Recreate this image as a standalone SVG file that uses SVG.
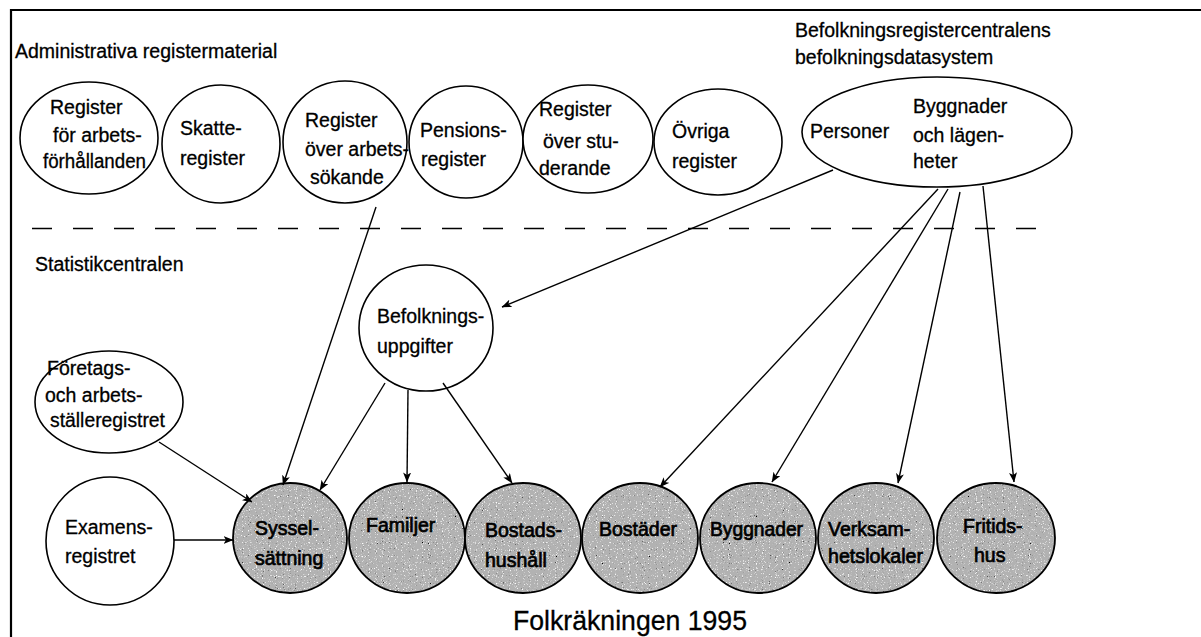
<svg xmlns="http://www.w3.org/2000/svg" width="1201" height="637" viewBox="0 0 1201 637">
<style>
text{font-family:"Liberation Sans",Arial,sans-serif;font-size:19.5px;fill:#000;stroke:#000;stroke-width:0.3}
.node{fill:#fff;stroke:#000;stroke-width:1.6}
.out{fill:none;stroke:#000;stroke-width:1.8}
.gray{fill:#b2b2b2;stroke:none}
.bt{stroke:#000;stroke-width:0.7}
.conn line{stroke:#000;stroke-width:1.4;marker-end:url(#ah)}
.frame{stroke:#000;stroke-width:2.2;fill:none}
</style>
<defs>
<marker id="ah" markerUnits="userSpaceOnUse" markerWidth="10" markerHeight="8" refX="9.5" refY="4" orient="auto">
<path d="M0,0 L10,4 L0,8 L2.5,4 z" fill="#000"/>
</marker>
<filter id="stip" x="0" y="0" width="100%" height="100%">
<feTurbulence type="fractalNoise" baseFrequency="0.85" numOctaves="1" seed="7" result="n"/>
<feColorMatrix in="n" type="matrix" values="0 0 0 0 0 0 0 0 0 0 0 0 0 0 0 6 0 0 0 -3.9" result="d"/>
<feColorMatrix in="n" type="matrix" values="0 0 0 0 1 0 0 0 0 1 0 0 0 0 1 0 -6 0 0 2.4" result="w"/>
<feComposite in="d" in2="SourceAlpha" operator="in" result="dc"/>
<feComposite in="w" in2="SourceAlpha" operator="in" result="wc"/>
<feMerge><feMergeNode in="SourceGraphic"/><feMergeNode in="wc"/><feMergeNode in="dc"/></feMerge>
</filter>
</defs>
<rect width="1201" height="637" fill="#fff"/>
<path class="frame" d="M11,637 L11,10 L1201,10"/>
<line x1="32" y1="228.5" x2="1043" y2="228.5" stroke="#000" stroke-width="1.4" stroke-dasharray="20,21"/>
<text x="15" y="58">Administrativa registermaterial</text>
<text x="795" y="37">Befolkningsregistercentralens</text>
<text x="795" y="64">befolkningsdatasystem</text>
<text x="35" y="271">Statistikcentralen</text>
<text x="513" y="630" style="font-size:27px" textLength="234" lengthAdjust="spacingAndGlyphs">Folkräkningen 1995</text>

<g id="reg-arbetsforhallanden"><ellipse class="node" cx="89" cy="138" rx="69" ry="56"/>
<text x="50" y="114">Register</text><text x="53" y="142">för arbets-</text><text x="43" y="168" textLength="103" lengthAdjust="spacingAndGlyphs">förhållanden</text></g>
<g id="skatteregister"><ellipse class="node" cx="221" cy="144" rx="59" ry="59"/>
<text x="180" y="135">Skatte-</text><text x="180" y="165">register</text></g>
<g id="reg-arbetssokande"><ellipse class="node" cx="345" cy="142" rx="62" ry="61"/>
<text x="305" y="127">Register</text><text x="305" y="156">över arbets-</text><text x="310" y="184">sökande</text></g>
<g id="pensionsregister"><ellipse class="node" cx="466" cy="142" rx="57" ry="56"/>
<text x="420" y="137">Pensions-</text><text x="421" y="166">register</text></g>
<g id="reg-studerande"><ellipse class="node" cx="588" cy="139" rx="65" ry="54"/>
<text x="539" y="116">Register</text><text x="543" y="148">över stu-</text><text x="539" y="175">derande</text></g>
<g id="ovriga"><ellipse class="node" cx="718" cy="142" rx="64" ry="53"/>
<text x="672" y="138">Övriga</text><text x="672" y="168">register</text></g>
<g id="befolkningsdatasystem"><ellipse class="node" cx="937" cy="132" rx="135" ry="55"/>
<text x="810" y="138">Personer</text><text x="913" y="113">Byggnader</text><text x="913" y="142">och lägen-</text><text x="913" y="168">heter</text></g>

<g id="befolkningsuppgifter"><ellipse class="node" cx="426" cy="328" rx="67" ry="63"/>
<text x="377" y="323">Befolknings-</text><text x="377" y="353">uppgifter</text></g>
<g id="foretagsregistret"><ellipse class="node" cx="109" cy="402" rx="74" ry="51"/>
<text x="47" y="375">Företags-</text><text x="45" y="402">och arbets-</text><text x="50" y="427" textLength="115" lengthAdjust="spacingAndGlyphs">ställeregistret</text></g>
<g id="examensregistret"><ellipse class="node" cx="110" cy="541" rx="64" ry="64"/>
<text x="65" y="534">Examens-</text><text x="65" y="563">registret</text></g>

<g id="sysselsattning"><ellipse class="gray" filter="url(#stip)" cx="290" cy="538" rx="57" ry="55"/><ellipse class="out" cx="290" cy="538" rx="57" ry="55"/>
<text class="bt" x="255" y="535">Syssel-</text><text class="bt" x="255" y="565">sättning</text></g>
<g id="familjer"><ellipse class="gray" filter="url(#stip)" cx="407" cy="538" rx="58" ry="55"/><ellipse class="out" cx="407" cy="538" rx="58" ry="55"/>
<text class="bt" x="366" y="532">Familjer</text></g>
<g id="bostadshushall"><ellipse class="gray" filter="url(#stip)" cx="523" cy="538" rx="58" ry="55"/><ellipse class="out" cx="523" cy="538" rx="58" ry="55"/>
<text class="bt" x="485" y="537">Bostads-</text><text class="bt" x="485" y="567">hushåll</text></g>
<g id="bostader"><ellipse class="gray" filter="url(#stip)" cx="640" cy="538" rx="58" ry="55"/><ellipse class="out" cx="640" cy="538" rx="58" ry="55"/>
<text class="bt" x="599" y="536">Bostäder</text></g>
<g id="byggnader"><ellipse class="gray" filter="url(#stip)" cx="758" cy="538" rx="58" ry="55"/><ellipse class="out" cx="758" cy="538" rx="58" ry="55"/>
<text class="bt" x="710" y="536" textLength="93" lengthAdjust="spacingAndGlyphs">Byggnader</text></g>
<g id="verksamhetslokaler"><ellipse class="gray" filter="url(#stip)" cx="876" cy="538" rx="58" ry="55"/><ellipse class="out" cx="876" cy="538" rx="58" ry="55"/>
<text class="bt" x="828" y="536">Verksam-</text><text class="bt" x="828" y="563" textLength="95" lengthAdjust="spacingAndGlyphs">hetslokaler</text></g>
<g id="fritidshus"><ellipse class="gray" filter="url(#stip)" cx="996" cy="538" rx="59" ry="55"/><ellipse class="out" cx="996" cy="538" rx="59" ry="55"/>
<text class="bt" x="963" y="533">Fritids-</text><text class="bt" x="974" y="562">hus</text></g>

<g id="connectors" class="conn">
<line x1="376" y1="207" x2="283" y2="485"/>
<line x1="833" y1="170" x2="502" y2="307"/>
<line x1="385" y1="383" x2="320" y2="490"/>
<line x1="408" y1="390" x2="407" y2="482"/>
<line x1="443" y1="383" x2="512" y2="483"/>
<line x1="159" y1="442" x2="252" y2="502"/>
<line x1="174" y1="540" x2="233" y2="540"/>
<line x1="938" y1="189" x2="660" y2="487"/>
<line x1="948" y1="189" x2="772" y2="482"/>
<line x1="960" y1="192" x2="898" y2="483"/>
<line x1="983" y1="186" x2="1014" y2="482"/>
</g>
</svg>
